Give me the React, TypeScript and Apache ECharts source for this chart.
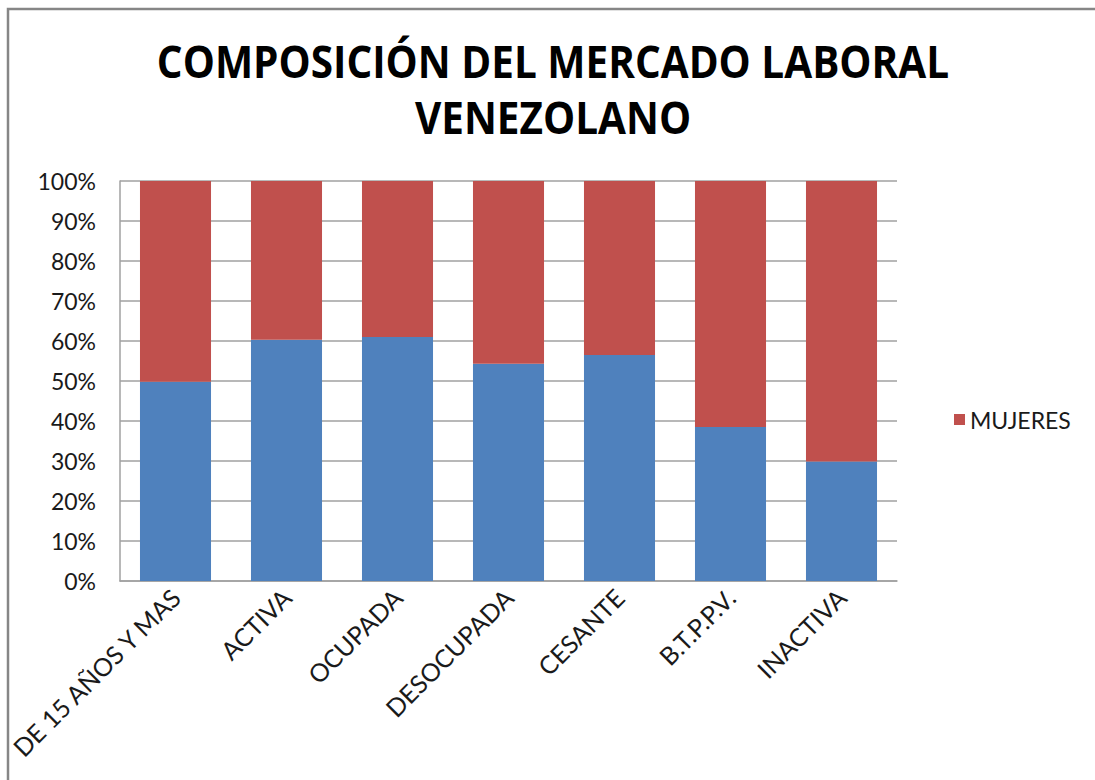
import React, { useEffect, useRef } from "react";
import * as echarts from "echarts";

const categories = [
  "DE 15 AÑOS Y MAS",
  "ACTIVA",
  "OCUPADA",
  "DESOCUPADA",
  "CESANTE",
  "B.T.P.P.V.",
  "INACTIVA",
];
const hombres = [49.8, 60.3, 61.0, 54.3, 56.5, 38.5, 29.9];
const mujeres = [50.2, 39.7, 39.0, 45.7, 43.5, 61.5, 70.1];
const titleLines = ["COMPOSICIÓN DEL MERCADO LABORAL", "VENEZOLANO"];

const FONT = "Lato, 'Open Sans', sans-serif";
const TITLE_FONT = "'Open Sans', sans-serif";

export default function App() {
  const ref = useRef<HTMLDivElement>(null);
  useEffect(() => {
    document.body.style.margin = "0";
    const chart = echarts.init(ref.current!, null, { renderer: "svg" });
    chart.setOption({
      animation: false,
      backgroundColor: "#ffffff",
      graphic: [
        {
          type: "rect",
          shape: { x: 8, y: 9, width: 1200, height: 900 },
          style: { fill: "none", stroke: "#868686", lineWidth: 2.5 },
          silent: true,
        },
        {
          type: "text",
          x: 553,
          y: 61,
          scaleX: 0.9,
          style: {
            text: titleLines[0],
            font: `bold 45px ${TITLE_FONT}`,
            fill: "#000000",
            textAlign: "center",
            textVerticalAlign: "middle",
          },
        },
        {
          type: "text",
          x: 553,
          y: 117,
          scaleX: 0.9,
          style: {
            text: titleLines[1],
            font: `bold 45px ${TITLE_FONT}`,
            fill: "#000000",
            textAlign: "center",
            textVerticalAlign: "middle",
          },
        },
      ],
      legend: {
        data: ["MUJERES"],
        left: 949,
        top: 403,
        icon: "rect",
        itemWidth: 11,
        itemHeight: 11,
        itemGap: 10,
        textStyle: { fontFamily: FONT, fontSize: 23, color: "#1a1a1a" },
      },
      grid: { left: 120, right: 198, top: 181, bottom: 199, containLabel: false },
      xAxis: {
        type: "category",
        data: categories,
        axisLine: { lineStyle: { color: "#a0a0a0", width: 1.5 } },
        axisTick: { show: false },
        axisLabel: {
          interval: 0,
          rotate: 45,
          margin: 12,
          fontFamily: FONT,
          fontSize: 25,
          color: "#1a1a1a",
        },
      },
      yAxis: {
        type: "value",
        min: 0,
        max: 100,
        interval: 10,
        axisLine: { show: true, lineStyle: { color: "#a0a0a0", width: 1.5 } },
        axisTick: { show: false },
        splitLine: { lineStyle: { color: "#a0a0a0", width: 1.5 } },
        axisLabel: {
          formatter: "{value}%",
          margin: 24,
          fontFamily: FONT,
          fontSize: 23,
          color: "#1a1a1a",
        },
      },
      series: [
        {
          name: "HOMBRES",
          type: "bar",
          stack: "total",
          data: hombres,
          barWidth: "64%",
          itemStyle: { color: "#4F81BD" },
        },
        {
          name: "MUJERES",
          type: "bar",
          stack: "total",
          data: mujeres,
          barWidth: "64%",
          itemStyle: { color: "#C0504D" },
        },
      ],
    });
    return () => chart.dispose();
  }, []);
  return <div ref={ref} style={{ width: 1095, height: 780 }} />;
}
